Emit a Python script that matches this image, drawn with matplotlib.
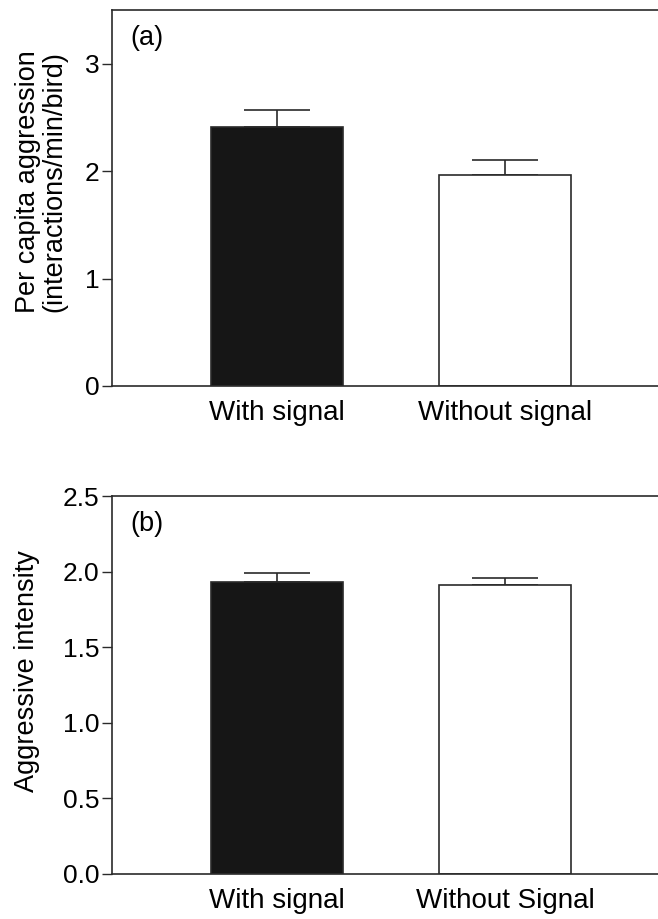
import numpy as np
import matplotlib
matplotlib.use("Agg")
import matplotlib.pyplot as plt

plt.rcParams['font.family'] = ['Liberation Sans', 'DejaVu Sans']

# panel (a)
groups_a = ["With signal", "Without signal"]
aggression = [2.41, 1.96]
aggression_se = [0.16, 0.145]

# panel (b)
groups_b = ["With signal", "Without Signal"]
intensity = [1.935, 1.915]
intensity_se = [0.055, 0.047]

bar_colors = ["#161616", "white"]
line_col = "#2a2a2a"

fig = plt.figure(figsize=(6.58, 9.19), dpi=100)
ax1 = fig.add_axes([0.170, 0.580, 0.830, 0.409])
ax2 = fig.add_axes([0.170, 0.049, 0.830, 0.411])


def draw_panel(ax, labels, vals, errs, ylim, yticks, ytl, tag):
    x = np.arange(len(labels))
    ax.bar(x, vals, width=0.579, color=bar_colors, edgecolor=line_col,
           linewidth=1.2, zorder=2)
    ax.errorbar(x, vals, yerr=[np.zeros(len(errs)), errs], fmt='none',
                ecolor=line_col, elinewidth=1.2, capsize=24, capthick=1.2,
                zorder=1)
    ax.set_xlim(-0.724, 1.671)
    ax.set_ylim(*ylim)
    ax.set_xticks(x)
    ax.set_xticklabels(labels, fontsize=20)
    ax.set_yticks(yticks)
    ax.set_yticklabels(ytl, fontsize=19)
    ax.tick_params(axis='x', length=0, pad=10)
    ax.tick_params(axis='y', length=7, width=1.0, color=line_col, pad=2)
    ax.spines['right'].set_visible(False)
    for s in ['left', 'top', 'bottom']:
        ax.spines[s].set_color(line_col)
        ax.spines[s].set_linewidth(1.2)
    ax.text(0.033, 0.96, tag, transform=ax.transAxes, fontsize=19.5,
            ha='left', va='top')


draw_panel(ax1, groups_a, aggression, aggression_se, (0, 3.5),
           [0, 1, 2, 3], ["0", "1", "2", "3"], "(a)")
ax1.set_ylabel("Per capita aggression\n(interactions/min/bird)", fontsize=19.5,
               linespacing=1.05)
ax1.yaxis.set_label_coords(-0.081, 0.545)

draw_panel(ax2, groups_b, intensity, intensity_se, (0, 2.5),
           [0, 0.5, 1.0, 1.5, 2.0, 2.5],
           ["0.0", "0.5", "1.0", "1.5", "2.0", "2.5"], "(b)")
ax2.set_ylabel("Aggressive intensity", fontsize=19.5)
ax2.yaxis.set_label_coords(-0.132, 0.536)

fig.savefig("out.png", dpi=100)
